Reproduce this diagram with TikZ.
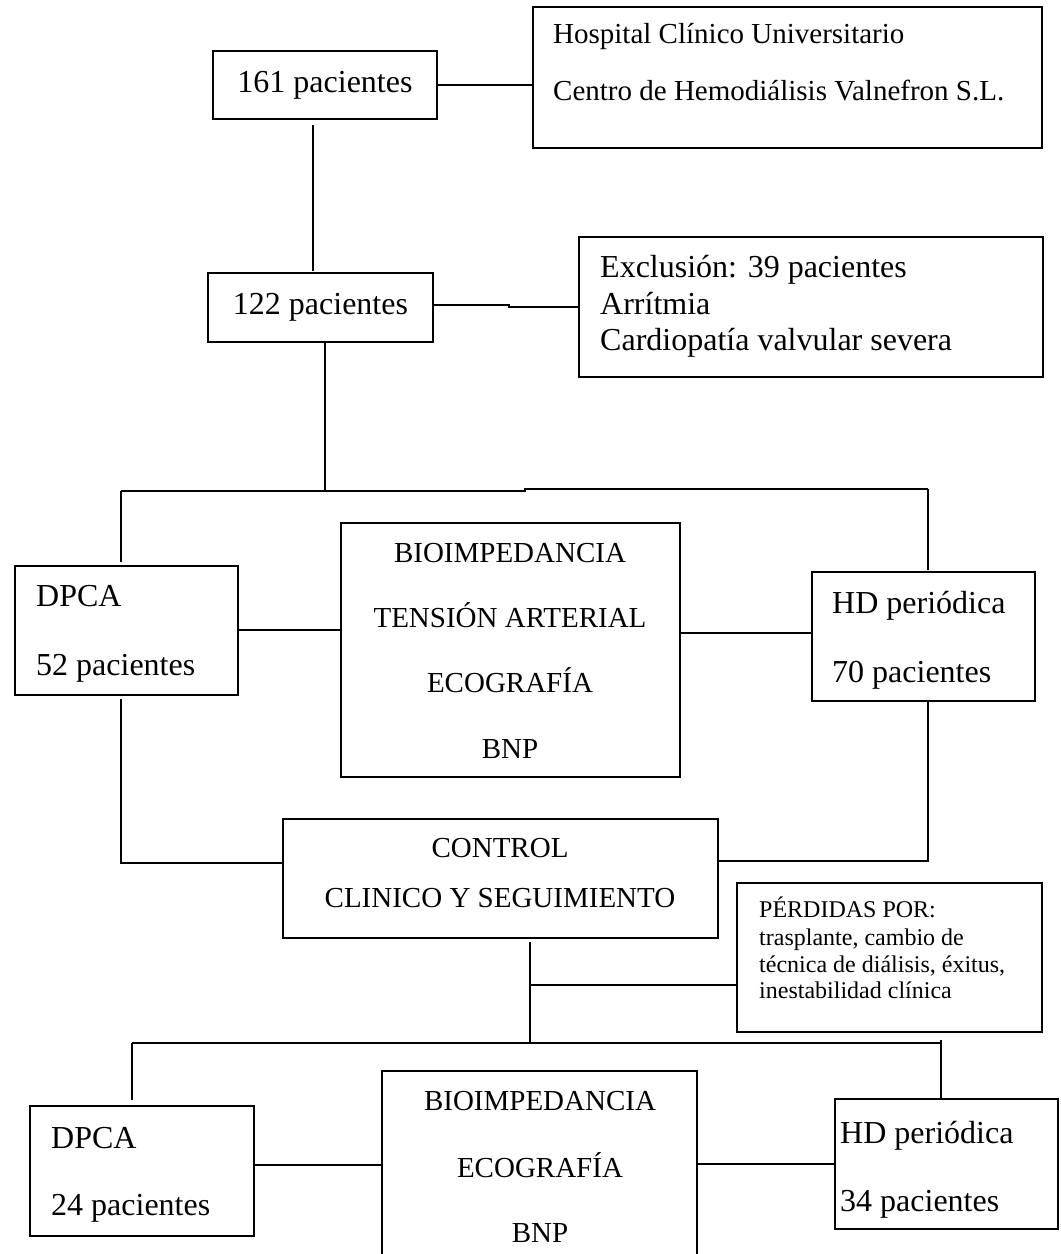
\documentclass[tikz,border=0pt]{standalone}
\usepackage{fontspec}
\setmainfont{Liberation Serif}
\begin{document}
\begin{tikzpicture}[x=1pt,y=-1pt,
  box/.style={draw, line width=1.4pt, inner sep=0pt, minimum width=#1},
  conn/.style={line width=1.7pt},
  big/.style={inner sep=0pt, font=\fontsize{32}{36}\selectfont},
  mid/.style={inner sep=0pt, font=\fontsize{29}{33}\selectfont},
  small/.style={inner sep=0pt, font=\fontsize{24}{27}\selectfont}]
\useasboundingbox[fill=white] (0,0) rectangle (1061,1254);
\clip (0,0) rectangle (1061,1254);

% ---------- boxes ----------
\node[box=224pt, minimum height=68pt, big] (b161) at (325,85) {161 pacientes};
\node[box=509pt, minimum height=141pt] (hosp) at (787.5,77.5) {};
\node[box=225pt, minimum height=69pt, big] (b122) at (320.5,307.5) {122 pacientes};
\node[box=464pt, minimum height=140pt] (excl) at (811,307) {};
\node[box=223pt, minimum height=129pt] (dpca1) at (126.5,630.5) {};
\node[box=339pt, minimum height=254pt] (mid1) at (510.5,650) {};
\node[box=223pt, minimum height=129pt] (hd1) at (923.5,636.5) {};
\node[box=435pt, minimum height=119pt] (ctrl) at (500.5,878.5) {};
\node[box=305pt, minimum height=149pt] (perd) at (889.5,957.5) {};
\node[box=224pt, minimum height=130pt] (dpca2) at (142,1171) {};
\node[box=315pt, minimum height=229pt] (mid2) at (539.5,1185.5) {};
\node[box=223pt, minimum height=130pt] (hd2) at (946.5,1164) {};

% ---------- texts ----------
\node[mid, anchor=base west] (th1) at (553,43) {Hospital Clínico Universitario};
\node[mid, anchor=base west] (th2) at (553,100) {Centro de Hemodiálisis Valnefron S.L.};

\node[big, anchor=base west] (te1) at (600,277) {Exclusión: 39 pacientes};
\node[big, anchor=base west] (te2) at (600,314) {Arrítmia};
\node[big, anchor=base west] (te3) at (600,350) {Cardiopatía valvular severa};

\node[big, anchor=base west] (td1a) at (36,606) {DPCA};
\node[big, anchor=base west] (td1b) at (36,675) {52 pacientes};

\node[mid, anchor=base] (tm1a) at (510,562) {BIOIMPEDANCIA};
\node[mid, anchor=base] (tm1b) at (510,627) {TENSIÓN ARTERIAL};
\node[mid, anchor=base] (tm1c) at (510,692) {ECOGRAFÍA};
\node[mid, anchor=base] (tm1d) at (510,758) {BNP};

\node[big, anchor=base west] (th1a) at (832,613) {HD periódica};
\node[big, anchor=base west] (th1b) at (832,682) {70 pacientes};

\node[mid, anchor=base] (tc1) at (500,857) {CONTROL};
\node[mid, anchor=base] (tc2) at (500,907) {CLINICO Y SEGUIMIENTO};

\node[small, anchor=base west] (tp1) at (759,917) {PÉRDIDAS POR:};
\node[small, anchor=base west] (tp2) at (759,945) {trasplante, cambio de};
\node[small, anchor=base west] (tp3) at (759,972) {técnica de diálisis, éxitus,};
\node[small, anchor=base west] (tp4) at (759,998) {inestabilidad clínica};

\node[big, anchor=base west] (td2a) at (51,1148) {DPCA};
\node[big, anchor=base west] (td2b) at (51,1215) {24 pacientes};

\node[mid, anchor=base] (tm2a) at (540,1110) {BIOIMPEDANCIA};
\node[mid, anchor=base] (tm2b) at (540,1177) {ECOGRAFÍA};
\node[mid, anchor=base] (tm2c) at (540,1242) {BNP};

\node[big, anchor=base west] (th2a) at (840,1143) {HD periódica};
\node[big, anchor=base west] (th2b) at (840,1211) {34 pacientes};

% ---------- junction coordinates ----------
\coordinate (v1a) at (313,125);
\coordinate (v1b) at (313,271);
\coordinate (s1) at (509,305);
\coordinate (s2) at (509,307);
\coordinate (j1) at (325,491);
\coordinate (jl) at (121,491);
\coordinate (jm) at (525,491);
\coordinate (jm2) at (525,489);
\coordinate (jr) at (928,489);
\coordinate (jlb) at (121,562);
\coordinate (jrb) at (928,570);
\coordinate (kl1) at (121,699);
\coordinate (kl2) at (121,863);
\coordinate (kr1) at (928,701);
\coordinate (kr2) at (928,861);
\coordinate (c1) at (530,942);
\coordinate (c2) at (530,985);
\coordinate (c3) at (530,1043);
\coordinate (hl) at (132,1043);
\coordinate (hr) at (941,1043);
\coordinate (hlb) at (132,1100);
\coordinate (hrt) at (941,1040);
\coordinate (hrb) at (941,1099);

% ---------- connectors ----------
\draw[conn] (b161.east) -- (hosp.west |- b161.east);
\draw[conn] (v1a) -- (v1b);
\draw[conn] (b122.east |- s1) -- (s1) -- (s2) -- (excl.west |- s2);
\draw[conn] (b122.south -| j1) -- (j1);
\draw[conn] (jl) -- (jm) -- (jm2) -- (jr);
\draw[conn] (jl) -- (jlb);
\draw[conn] (jr) -- (jrb);
\draw[conn] (dpca1.east |- 0,630) -- (mid1.west |- 0,630);
\draw[conn] (mid1.east |- 0,633) -- (hd1.west |- 0,633);
\draw[conn] (kl1) -- (kl2) -- (ctrl.west |- kl2);
\draw[conn] (kr1) -- (kr2) -- (ctrl.east |- kr2);
\draw[conn] (c1) -- (c3);
\draw[conn] (c2) -- (perd.west |- c2);
\draw[conn] (hl) -- (hr);
\draw[conn] (hl) -- (hlb);
\draw[conn] (hrt) -- (hrb);
\draw[conn] (dpca2.east |- 0,1165) -- (mid2.west |- 0,1165);
\draw[conn] (mid2.east |- 0,1164) -- (hd2.west |- 0,1164);
\end{tikzpicture}
\end{document}
